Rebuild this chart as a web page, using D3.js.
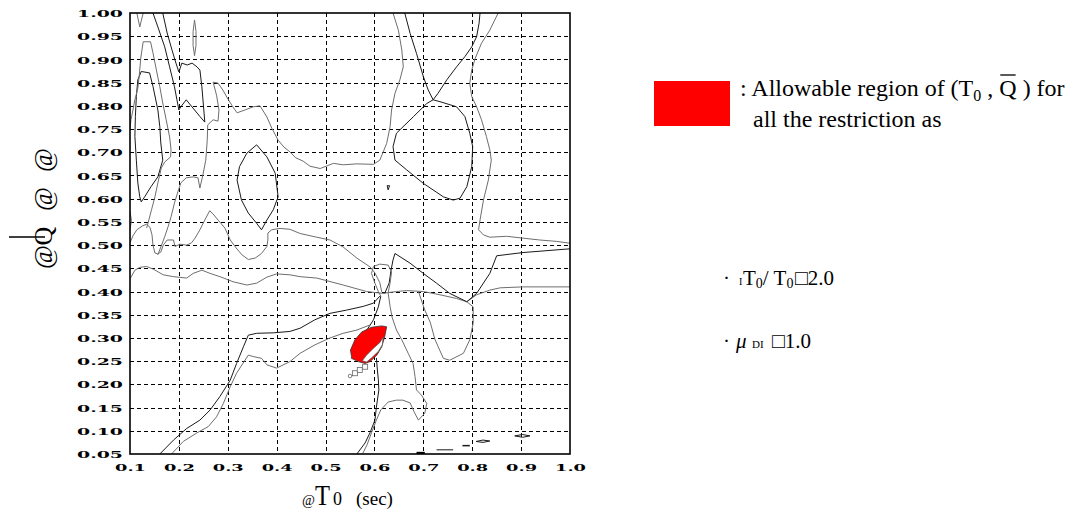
<!DOCTYPE html>
<html>
<head>
<meta charset="utf-8">
<script src="https://cdn.jsdelivr.net/npm/d3@7"></script>
<style>
  body { margin: 0; background: #fff; }
  svg { display: block; }
</style>
</head>
<body>
<svg id="chart" width="1068" height="515"></svg>
<script>
// ---- axis ticks ----
const xTickValues = [0.1, 0.2, 0.3, 0.4, 0.5, 0.6, 0.7, 0.8, 0.9, 1.0];
const xTickLabels = ["0.1", "0.2", "0.3", "0.4", "0.5", "0.6", "0.7", "0.8", "0.9", "1.0"];
const yTickValues = [0.05, 0.10, 0.15, 0.20, 0.25, 0.30, 0.35, 0.40, 0.45, 0.50,
                     0.55, 0.60, 0.65, 0.70, 0.75, 0.80, 0.85, 0.90, 0.95, 1.00];
const yTickLabels = ["0.05", "0.10", "0.15", "0.20", "0.25", "0.30", "0.35", "0.40", "0.45", "0.50",
                     "0.55", "0.60", "0.65", "0.70", "0.75", "0.80", "0.85", "0.90", "0.95", "1.00"];

// ---- contour lines, points are [T0, Q] ----
const topNotch = [[0.114, 1.0], [0.120, 0.970], [0.127, 1.0]];
const topEllipse = [[0.232, 0.985], [0.235, 0.96], [0.235, 0.93], [0.232, 0.908], [0.229, 0.93], [0.229, 0.96]];
const tongue = [[0.147, 1.0], [0.157, 0.970], [0.171, 0.927], [0.181, 0.884], [0.191, 0.841], [0.196, 0.813],
  [0.200, 0.791], [0.204, 0.798], [0.215, 0.813], [0.229, 0.795], [0.243, 0.777], [0.253, 0.765],
  [0.251, 0.791], [0.247, 0.841], [0.243, 0.877], [0.237, 0.884], [0.227, 0.892], [0.217, 0.888],
  [0.206, 0.892], [0.200, 0.873], [0.194, 0.892], [0.186, 0.920], [0.176, 0.957], [0.167, 1.0]];
const innerLoop = [[0.123, 0.874], [0.140, 0.871], [0.147, 0.842], [0.157, 0.791], [0.161, 0.755], [0.163, 0.720],
  [0.167, 0.683], [0.157, 0.647], [0.143, 0.626], [0.130, 0.604], [0.123, 0.593], [0.120, 0.604],
  [0.116, 0.634], [0.113, 0.683], [0.110, 0.734], [0.111, 0.777], [0.113, 0.820], [0.116, 0.856]];
const outerLoop = [[0.100, 0.750], [0.102, 0.770], [0.106, 0.791], [0.110, 0.813], [0.116, 0.838], [0.119, 0.866],
  [0.122, 0.903], [0.127, 0.938], [0.142, 0.938], [0.147, 0.914], [0.154, 0.877], [0.161, 0.841],
  [0.167, 0.806], [0.174, 0.770], [0.181, 0.733], [0.184, 0.705], [0.183, 0.690], [0.171, 0.679],
  [0.164, 0.666], [0.157, 0.634], [0.151, 0.604], [0.144, 0.576], [0.137, 0.548], [0.134, 0.537]];
const borderNick = [[0.100, 0.573], [0.103, 0.553], [0.100, 0.533]];
const waveLine = [[0.100, 0.505], [0.106, 0.520], [0.114, 0.533], [0.125, 0.541], [0.134, 0.545], [0.141, 0.538],
  [0.145, 0.522], [0.147, 0.500], [0.151, 0.483], [0.157, 0.481], [0.163, 0.485], [0.168, 0.500],
  [0.176, 0.511], [0.189, 0.511], [0.192, 0.497], [0.202, 0.502], [0.216, 0.500], [0.226, 0.505],
  [0.233, 0.515], [0.243, 0.533], [0.253, 0.554], [0.263, 0.574], [0.270, 0.567], [0.280, 0.554],
  [0.294, 0.537], [0.305, 0.511], [0.317, 0.494], [0.329, 0.479], [0.342, 0.469], [0.356, 0.472],
  [0.369, 0.482], [0.380, 0.497], [0.382, 0.511], [0.382, 0.526], [0.390, 0.533], [0.407, 0.536],
  [0.427, 0.534], [0.448, 0.525], [0.482, 0.517], [0.509, 0.511], [0.536, 0.496], [0.564, 0.472],
  [0.591, 0.453], [0.601, 0.440], [0.611, 0.419], [0.615, 0.399]];
const levelLine = [[0.101, 0.429], [0.110, 0.446], [0.120, 0.452], [0.134, 0.454], [0.148, 0.448], [0.168, 0.436],
  [0.189, 0.432], [0.216, 0.429], [0.229, 0.439], [0.247, 0.446], [0.264, 0.439], [0.284, 0.432],
  [0.311, 0.421], [0.339, 0.414], [0.359, 0.418], [0.380, 0.431], [0.400, 0.438], [0.427, 0.436],
  [0.448, 0.432], [0.482, 0.429], [0.536, 0.414], [0.584, 0.400], [0.617, 0.396], [0.645, 0.400],
  [0.666, 0.402], [0.700, 0.400], [0.734, 0.393], [0.768, 0.385], [0.789, 0.378], [0.809, 0.393],
  [0.836, 0.403], [0.857, 0.408], [0.904, 0.410], [1.0, 0.410]];
const peakLine = [[0.621, 0.396], [0.630, 0.418], [0.634, 0.446], [0.638, 0.468], [0.642, 0.482], [0.673, 0.461],
  [0.700, 0.439], [0.727, 0.418], [0.754, 0.396], [0.789, 0.378], [0.809, 0.396], [0.836, 0.439],
  [0.850, 0.477], [0.904, 0.484], [1.0, 0.492]];
const bulbLine = [[0.613, 0.390], [0.608, 0.400], [0.601, 0.418], [0.594, 0.439], [0.598, 0.454], [0.611, 0.459],
  [0.628, 0.457], [0.635, 0.442], [0.632, 0.418], [0.628, 0.397]];
const descentRight = [[0.628, 0.397], [0.632, 0.368], [0.636, 0.345], [0.645, 0.317], [0.656, 0.296], [0.669, 0.267],
  [0.679, 0.245], [0.683, 0.217], [0.686, 0.188], [0.696, 0.177], [0.707, 0.159], [0.703, 0.138],
  [0.690, 0.123], [0.681, 0.141], [0.673, 0.160], [0.658, 0.166], [0.645, 0.166], [0.628, 0.162],
  [0.613, 0.145], [0.604, 0.123], [0.594, 0.096], [0.585, 0.070], [0.576, 0.051]];
const descentLeftUpper = [[0.613, 0.390], [0.608, 0.367], [0.598, 0.339], [0.587, 0.321], [0.574, 0.306]];
const descentLeftLower = [[0.604, 0.257], [0.606, 0.231], [0.608, 0.210], [0.609, 0.188], [0.606, 0.166],
  [0.604, 0.151], [0.601, 0.123], [0.591, 0.096], [0.581, 0.074], [0.564, 0.050]];
const riseOuter = [[0.161, 0.050], [0.189, 0.080], [0.216, 0.105], [0.243, 0.123], [0.264, 0.145], [0.284, 0.174],
  [0.305, 0.209], [0.318, 0.245], [0.332, 0.281], [0.342, 0.306], [0.359, 0.310], [0.393, 0.311],
  [0.427, 0.314], [0.448, 0.321], [0.478, 0.339], [0.509, 0.353], [0.543, 0.360], [0.577, 0.368],
  [0.598, 0.375], [0.611, 0.390]];
const riseInner = [[0.185, 0.050], [0.209, 0.077], [0.236, 0.095], [0.260, 0.109], [0.277, 0.130], [0.291, 0.159],
  [0.305, 0.195], [0.318, 0.224], [0.342, 0.263], [0.352, 0.260], [0.369, 0.256], [0.380, 0.242],
  [0.400, 0.235], [0.427, 0.249], [0.448, 0.267], [0.478, 0.285], [0.509, 0.300], [0.536, 0.310],
  [0.564, 0.317], [0.591, 0.328]];
const ridgeLine = [[0.157, 0.479], [0.171, 0.518], [0.178, 0.540], [0.184, 0.561], [0.191, 0.591], [0.198, 0.615],
  [0.204, 0.634], [0.215, 0.645], [0.229, 0.647], [0.239, 0.645], [0.243, 0.623], [0.249, 0.651],
  [0.255, 0.683], [0.258, 0.726], [0.259, 0.759], [0.270, 0.770], [0.280, 0.767], [0.282, 0.791],
  [0.277, 0.823], [0.270, 0.851], [0.280, 0.849], [0.290, 0.834], [0.298, 0.819], [0.309, 0.800],
  [0.319, 0.785], [0.335, 0.791], [0.352, 0.798], [0.366, 0.800], [0.380, 0.776], [0.390, 0.752],
  [0.403, 0.726], [0.415, 0.711], [0.427, 0.701], [0.439, 0.688], [0.454, 0.681], [0.468, 0.670],
  [0.489, 0.665], [0.516, 0.676], [0.536, 0.673], [0.564, 0.675], [0.598, 0.674], [0.611, 0.683],
  [0.625, 0.719], [0.632, 0.755], [0.635, 0.791], [0.642, 0.827], [0.652, 0.856], [0.659, 0.884],
  [0.656, 0.920], [0.649, 0.963], [0.638, 1.0]];
const midLoop = [[0.359, 0.716], [0.380, 0.690], [0.397, 0.655], [0.403, 0.604], [0.393, 0.576], [0.380, 0.554],
  [0.369, 0.533], [0.359, 0.547], [0.342, 0.569], [0.328, 0.597], [0.319, 0.640], [0.324, 0.669],
  [0.339, 0.698]];
const vLine = [[0.662, 1.0], [0.673, 0.956], [0.686, 0.913], [0.700, 0.863], [0.710, 0.834], [0.720, 0.813],
  [0.730, 0.827], [0.748, 0.856], [0.768, 0.884], [0.785, 0.906], [0.799, 0.927], [0.809, 0.949],
  [0.814, 0.978], [0.816, 1.0]];
const saddleLoop = [[0.720, 0.813], [0.707, 0.805], [0.680, 0.777], [0.645, 0.741], [0.638, 0.712], [0.642, 0.683],
  [0.666, 0.662], [0.700, 0.633], [0.741, 0.604], [0.761, 0.597], [0.775, 0.601], [0.789, 0.626],
  [0.799, 0.669], [0.801, 0.712], [0.795, 0.741], [0.785, 0.777], [0.768, 0.798], [0.734, 0.809]];
const rightLine = [[0.853, 1.0], [0.836, 0.963], [0.819, 0.935], [0.806, 0.902], [0.799, 0.877], [0.795, 0.849],
  [0.799, 0.820], [0.809, 0.798], [0.819, 0.770], [0.829, 0.734], [0.836, 0.705], [0.839, 0.683],
  [0.833, 0.640], [0.823, 0.597], [0.816, 0.554], [0.813, 0.533], [0.823, 0.522], [0.836, 0.517],
  [0.870, 0.519], [0.904, 0.515], [0.938, 0.511], [0.973, 0.508], [1.0, 0.504]];
const lowerRightLoop = [[0.690, 0.400], [0.703, 0.360], [0.714, 0.334], [0.724, 0.296], [0.741, 0.256],
  [0.754, 0.252], [0.782, 0.267], [0.795, 0.296], [0.802, 0.332], [0.802, 0.367], [0.789, 0.378]];
const tinyLoop = [[0.626, 0.628], [0.631, 0.628], [0.628, 0.619]];
const dashA = [[0.686, 0.052], [0.703, 0.052]];
const dashB = [[0.727, 0.059], [0.761, 0.059]];
const dashC = [[0.780, 0.068], [0.795, 0.068]];
const ovalD = [[0.808, 0.077], [0.822, 0.080], [0.836, 0.078], [0.822, 0.075]];
const ovalE = [[0.887, 0.089], [0.903, 0.092], [0.918, 0.089], [0.903, 0.086]];

// ---- allowable region ----
const allowedOuter = [[0.553, 0.260], [0.551, 0.274], [0.560, 0.296], [0.574, 0.313], [0.594, 0.323], [0.615, 0.326],
  [0.625, 0.324], [0.621, 0.303], [0.615, 0.281], [0.605, 0.263], [0.591, 0.249], [0.581, 0.245],
  [0.567, 0.249], [0.553, 0.256]];
const allowedHole = [[0.575, 0.251], [0.584, 0.263], [0.598, 0.278], [0.611, 0.290], [0.618, 0.302],
  [0.616, 0.285], [0.608, 0.271], [0.594, 0.257], [0.584, 0.248]];
const trailSquares = [[0.560, 0.224], [0.570, 0.231], [0.581, 0.238]];
const trailDot = [[0.550, 0.218]];

// ---- drawing ----
const svg = d3.select("#chart");
const x = d3.scaleLinear().domain([0.1, 1.0]).range([130, 570]);
const y = d3.scaleLinear().domain([0.05, 1.0]).range([454, 13]);

const dark = "#1a1a1a", grey = "#6e6e6e";
const layers = [
  { pts: topNotch, color: grey }, { pts: topEllipse, color: grey, closed: true },
  { pts: tongue, color: dark }, { pts: innerLoop, color: dark, closed: true },
  { pts: outerLoop, color: grey }, { pts: borderNick, color: grey },
  { pts: waveLine, color: grey }, { pts: levelLine, color: grey },
  { pts: peakLine, color: dark }, { pts: bulbLine, color: grey },
  { pts: descentRight, color: grey }, { pts: descentLeftUpper, color: dark },
  { pts: descentLeftLower, color: dark }, { pts: riseOuter, color: dark },
  { pts: riseInner, color: grey }, { pts: ridgeLine, color: grey },
  { pts: midLoop, color: dark, closed: true }, { pts: vLine, color: dark },
  { pts: saddleLoop, color: dark, closed: true }, { pts: rightLine, color: grey },
  { pts: lowerRightLoop, color: grey }, { pts: tinyLoop, color: dark, closed: true },
  { pts: dashA, color: "#000", width: 2.5 }, { pts: dashB, color: dark },
  { pts: dashC, color: dark, width: 1.5 }, { pts: ovalD, color: dark, closed: true },
  { pts: ovalE, color: dark, closed: true }
];

svg.append("defs").append("clipPath").attr("id", "plotClip")
  .append("rect").attr("x", x(0.1)).attr("y", y(1.0))
  .attr("width", x(1.0) - x(0.1)).attr("height", y(0.05) - y(1.0));

// dashed grid
const grid = svg.append("g").attr("stroke", "#000").attr("stroke-width", 1).attr("stroke-dasharray", "4,3");
grid.selectAll("line.v").data(xTickValues.slice(1, -1)).join("line")
  .attr("x1", d => Math.round(x(d)) + 0.5).attr("x2", d => Math.round(x(d)) + 0.5)
  .attr("y1", y(1.0)).attr("y2", y(0.05));
grid.selectAll("line.h").data(yTickValues.slice(1, -1)).join("line")
  .attr("y1", d => Math.round(y(d)) + 0.5).attr("y2", d => Math.round(y(d)) + 0.5)
  .attr("x1", x(0.1)).attr("x2", x(1.0));

const line = d3.line().x(d => x(d[0])).y(d => y(d[1]));
const lineClosed = d3.line().x(d => x(d[0])).y(d => y(d[1])).curve(d3.curveLinearClosed);

const plot = svg.append("g").attr("clip-path", "url(#plotClip)");
plot.selectAll("path.contour").data(layers).join("path")
  .attr("class", "contour")
  .attr("d", d => d.closed ? lineClosed(d.pts) : line(d.pts))
  .attr("fill", "none")
  .attr("stroke", d => d.color)
  .attr("stroke-width", d => d.width || 1)
  .attr("stroke-linejoin", "round");

// allowable region with its unfilled sliver
plot.append("path").attr("d", lineClosed(allowedOuter))
  .attr("fill", "#ff0000").attr("stroke", "#333").attr("stroke-width", 0.8);
plot.append("path").attr("d", lineClosed(allowedHole))
  .attr("fill", "#fff").attr("stroke", "#555").attr("stroke-width", 0.8);
plot.selectAll("rect.trail").data(trailSquares).join("rect")
  .attr("class", "trail")
  .attr("x", d => x(d[0]) - 2.5).attr("y", d => y(d[1]) - 2.5)
  .attr("width", 5).attr("height", 5)
  .attr("fill", "#fff").attr("stroke", "#666").attr("stroke-width", 0.8);
plot.selectAll("circle.trail").data(trailDot).join("circle")
  .attr("class", "trail")
  .attr("cx", d => x(d[0])).attr("cy", d => y(d[1])).attr("r", 1.8)
  .attr("fill", "#fff").attr("stroke", "#666").attr("stroke-width", 0.8);

// frame
svg.append("rect").attr("x", x(0.1)).attr("y", y(1.0))
  .attr("width", x(1.0) - x(0.1)).attr("height", y(0.05) - y(1.0))
  .attr("fill", "none").attr("stroke", "#000").attr("stroke-width", 1.6);

// tick labels
const tickFont = "'DejaVu Serif', serif";
const yAxis = svg.append("g").attr("transform", `translate(${x(0.1)},0)`)
  .call(d3.axisLeft(y).tickValues(yTickValues).tickSize(0).tickPadding(7)
    .tickFormat((d, i) => yTickLabels[i]));
yAxis.select(".domain").remove();
yAxis.selectAll("text")
  .attr("font-family", tickFont).attr("font-weight", "bold").attr("font-size", 10)
  .attr("fill", "#000").attr("dy", "0.36em")
  .attr("textLength", 46).attr("lengthAdjust", "spacingAndGlyphs");

const xAxis = svg.append("g").attr("transform", `translate(0,${y(0.05)})`)
  .call(d3.axisBottom(x).tickValues(xTickValues).tickSize(0)
    .tickFormat((d, i) => xTickLabels[i]));
xAxis.select(".domain").remove();
xAxis.selectAll("text")
  .attr("font-family", tickFont).attr("font-weight", "bold").attr("font-size", 10)
  .attr("fill", "#000").attr("y", 17).attr("dy", 0)
  .attr("textLength", 31).attr("lengthAdjust", "spacingAndGlyphs");

// axis titles
const serif = "'Liberation Serif', 'Times New Roman', serif";
const yTitle = svg.append("g").attr("transform", "translate(44,0) rotate(-90)")
  .attr("font-family", serif).attr("font-size", 26).attr("fill", "#000");
yTitle.append("text").attr("y", 8)
  .selectAll("tspan").data([["@", -257], ["Q", -236], ["@", -199], ["@", -160]]).join("tspan")
  .attr("x", d => d[1]).attr("text-anchor", "middle").text(d => d[0]);
svg.append("line").attr("x1", 9).attr("x2", 45).attr("y1", 237).attr("y2", 237)
  .attr("stroke", "#000").attr("stroke-width", 1.4);

const xTitle = svg.append("g").attr("font-family", serif).attr("fill", "#000");
xTitle.append("text").attr("x", 302).attr("y", 505).attr("font-size", 14).text("@");
xTitle.append("text").attr("x", 315).attr("y", 505).attr("font-size", 29)
  .attr("textLength", 15).attr("lengthAdjust", "spacingAndGlyphs").text("T");
xTitle.append("text").attr("x", 333).attr("y", 505).attr("font-size", 18).text("0");
xTitle.append("text").attr("x", 356).attr("y", 505).attr("font-size", 19).text("(sec)");

// legend
svg.append("rect").attr("x", 654).attr("y", 81).attr("width", 76).attr("height", 45).attr("fill", "#ff0000");
const leg = svg.append("text").attr("x", 740).attr("y", 96)
  .attr("font-family", serif).attr("font-size", 24).attr("fill", "#000");
leg.append("tspan").text(": Allowable region of (T");
leg.append("tspan").attr("font-size", 16).attr("dy", 5).text("0");
leg.append("tspan").attr("dy", -5).text(" , ");
leg.append("tspan").text("Q");
leg.append("tspan").text(" ) for");
const full = leg.node().textContent;
const qBox = leg.node().getExtentOfChar(full.indexOf("Q"));
svg.append("line").attr("x1", qBox.x + 1).attr("x2", qBox.x + qBox.width - 1)
  .attr("y1", 75).attr("y2", 75).attr("stroke", "#000").attr("stroke-width", 1.3);
svg.append("text").attr("x", 753).attr("y", 127)
  .attr("font-family", serif).attr("font-size", 24).attr("fill", "#000")
  .text("all the restriction as");

// restriction list
const r1 = svg.append("text").attr("y", 285).attr("font-family", serif).attr("font-size", 21).attr("fill", "#000");
r1.append("tspan").attr("x", 723).text("·");
r1.append("tspan").attr("x", 739).attr("font-size", 10).text("I");
r1.append("tspan").attr("x", 743).text("T");
r1.append("tspan").attr("font-size", 14).attr("dy", 3).text("0");
r1.append("tspan").attr("dy", -3).text("/ T");
r1.append("tspan").attr("font-size", 14).attr("dy", 3).text("0");
r1.append("tspan").attr("dy", -3).attr("x", 795).text("□2.0");

const r2 = svg.append("text").attr("y", 348).attr("font-family", serif).attr("font-size", 21).attr("fill", "#000");
r2.append("tspan").attr("x", 723).text("·");
r2.append("tspan").attr("x", 736).attr("font-style", "italic").text("μ");
r2.append("tspan").attr("x", 752).attr("font-size", 11).text("DI");
r2.append("tspan").attr("x", 772).text("□1.0");
</script>
</body>
</html>
